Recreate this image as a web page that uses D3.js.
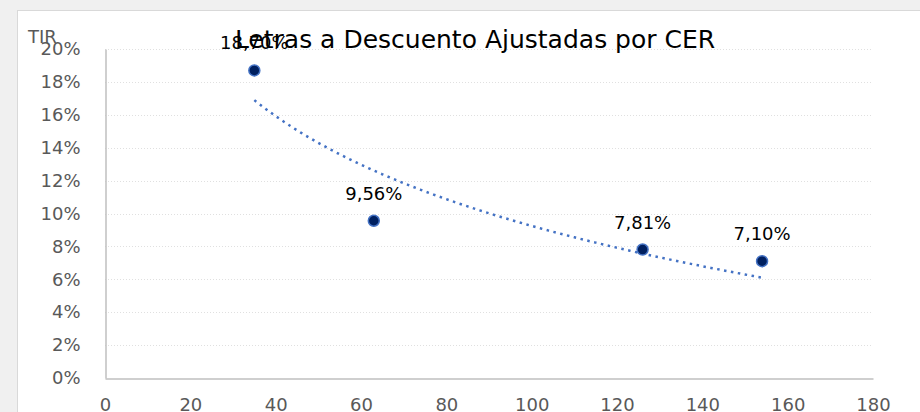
<!DOCTYPE html>
<html>
<head>
<meta charset="utf-8">
<script src="https://cdnjs.cloudflare.com/ajax/libs/d3/7.8.5/d3.min.js"></script>
<style>
  body { margin: 0; background: #f0f0f0; }
  svg { display: block; }
  text { font-family: "DejaVu Sans", sans-serif; }
</style>
</head>
<body>
<svg width="920" height="412"></svg>
<script>
// plazo (días) y TIR de cada letra
var dias = [35, 63, 126, 154];
var tir = [0.1870, 0.0956, 0.0781, 0.0710];
var etiquetas = ["18,70%", "9,56%", "7,81%", "7,10%"];
var yTicks = [0, 0.02, 0.04, 0.06, 0.08, 0.10, 0.12, 0.14, 0.16, 0.18, 0.20];
var xTicks = [0, 20, 40, 60, 80, 100, 120, 140, 160, 180];

var svg = d3.select("svg");
var fuente = "DejaVu Sans";

// chart area box
svg.append("rect").attr("x", 17.5).attr("y", 10.5).attr("width", 920).attr("height", 420)
    .attr("fill", "#fff").attr("stroke", "#d9d9d9");

var x = d3.scaleLinear().domain([0, 180]).range([105, 873]);
var y = d3.scaleLinear().domain([0, 0.20]).range([378, 49]);

// gridlines
svg.append("g").selectAll("line").data(yTicks.slice(1)).enter().append("line")
    .attr("x1", x(0)).attr("x2", x(180))
    .attr("y1", function(d) { return Math.round(y(d)) + 0.5; })
    .attr("y2", function(d) { return Math.round(y(d)) + 0.5; })
    .attr("stroke", "#e0e0e0").attr("stroke-dasharray", "1,2");

// y axis
var gy = svg.append("g").attr("transform", "translate(105.5,0)")
    .call(d3.axisLeft(y).tickValues(yTicks).tickSize(0).tickPadding(25)
        .tickFormat(function(d) { return Math.round(d * 100) + "%"; }));
gy.select(".domain").attr("stroke", "#bfbfbf").attr("stroke-width", 1.5);
gy.selectAll("text").attr("font-size", 18).attr("fill", "#595959").attr("font-family", fuente);

// x axis
var gx = svg.append("g").attr("transform", "translate(0,378.5)")
    .call(d3.axisBottom(x).tickValues(xTicks).tickSize(0).tickPadding(20));
gx.select(".domain").attr("stroke", "#bfbfbf").attr("stroke-width", 1.5);
gx.selectAll("text").attr("font-size", 18).attr("fill", "#595959").attr("font-family", fuente);

// logarithmic trendline fitted to the points
var lx = dias.map(Math.log);
var mx = d3.mean(lx), my = d3.mean(tir);
var b = d3.sum(lx, function(v, i) { return (v - mx) * (tir[i] - my); }) /
        d3.sum(lx, function(v) { return (v - mx) * (v - mx); });
var a = my - b * mx;
var tx = d3.range(dias[0], dias[dias.length - 1] + 0.5, 1);
var line = d3.line()
    .x(function(d) { return x(d); })
    .y(function(d) { return y(a + b * Math.log(d)); });
svg.append("path").datum(tx).attr("d", line)
    .attr("fill", "none").attr("stroke", "#4472c4").attr("stroke-width", 2.5)
    .attr("stroke-dasharray", "2.5,4.5");

// points
svg.append("g").selectAll("circle").data(dias).enter().append("circle")
    .attr("cx", function(d) { return x(d); })
    .attr("cy", function(d, i) { return y(tir[i]); })
    .attr("r", 5.5)
    .attr("fill", "#002060").attr("stroke", "#4472c4").attr("stroke-width", 1.5);

// title
svg.append("text").attr("x", 475).attr("y", 48).attr("text-anchor", "middle")
    .attr("font-size", 25).attr("fill", "#000")
    .text("Letras a Descuento Ajustadas por CER");

// data labels
svg.append("g").selectAll("text").data(dias).enter().append("text")
    .attr("x", function(d) { return x(d); })
    .attr("y", function(d, i) { return y(tir[i]) - 21; })
    .attr("text-anchor", "middle").attr("font-size", 18).attr("fill", "#000")
    .text(function(d, i) { return etiquetas[i]; });

// axis title
svg.append("text").attr("x", 28).attr("y", 43).attr("font-size", 18).attr("fill", "#595959")
    .text("TIR");
</script>
</body>
</html>
